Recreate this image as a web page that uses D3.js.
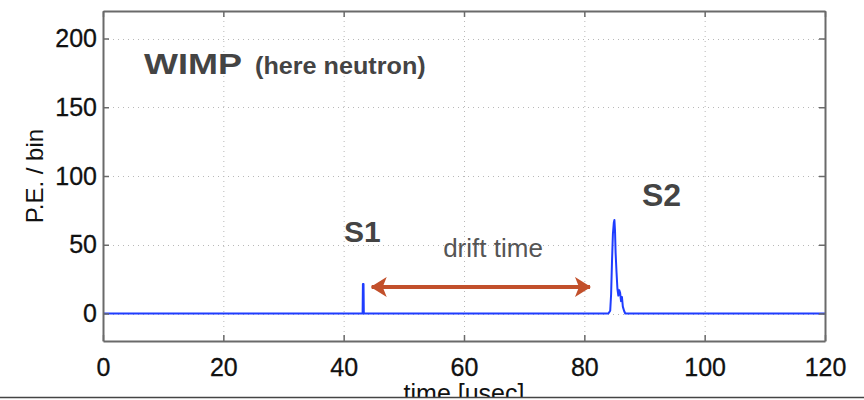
<!DOCTYPE html>
<html>
<head>
<meta charset="utf-8">
<script src="https://cdn.jsdelivr.net/npm/d3@7"></script>
<style>
  html, body { margin: 0; padding: 0; background: #fff; }
  svg { display: block; }
  text { font-family: "Liberation Sans", Arial, Helvetica, sans-serif; }
</style>
</head>
<body>
<svg id="chart" width="864" height="400"></svg>
<script>
// Photomultiplier trace of a single event: prompt scintillation (S1)
// followed by delayed proportional light (S2). Times in microseconds.
const traceTime = [0, 43.15, 43.2, 43.3, 43.35, 84.0, 84.3, 84.45, 84.6, 84.75, 84.9, 85.0, 85.1, 85.2, 85.35, 85.5, 85.65, 85.8, 85.95, 86.1, 86.25, 86.4, 86.6, 86.8, 120];
const tracePE   = [0, 0,     21.5, 21.5, 0,    0,    2,    14,   38,   58,   66,   68,   60,   44,   30,   18,   13,   17,   15,   9,    12,   5,    2,    0,    0];

const xTicks = [0, 20, 40, 60, 80, 100, 120];
const yTicks = [0, 50, 100, 150, 200];

// Drift-time arrow between the two signals (time, P.E. level)
const driftStartEnd = [44.66, 80.94];
const driftLevel = 19.3;

const labels = {
  title: "WIMP", subtitle: "(here neutron)",
  s1: "S1", s2: "S2", drift: "drift time",
  xAxis: "time [usec]", yAxis: "P.E. / bin"
};

const W = 864, H = 400;
const margin = { left: 103, right: 39, top: 11, bottom: 59 };
const svg = d3.select("#chart");

const x = d3.scaleLinear().domain([0, 120]).range([margin.left, W - margin.right]);
const y = d3.scaleLinear().domain([-20, 220]).range([H - margin.bottom, margin.top]);

// dotted grid
const grid = svg.append("g").attr("stroke", "#b8b8b8").attr("stroke-width", 1).attr("stroke-dasharray", "1,4");
grid.selectAll("line.v").data(xTicks.slice(1, -1)).join("line")
  .attr("x1", d => x(d) + 0.5).attr("x2", d => x(d) + 0.5)
  .attr("y1", y.range()[1]).attr("y2", y.range()[0]);
grid.selectAll("line.h").data(yTicks).join("line")
  .attr("y1", d => Math.round(y(d)) + 0.5).attr("y2", d => Math.round(y(d)) + 0.5)
  .attr("x1", x.range()[0]).attr("x2", x.range()[1]);

// trace
const line = d3.line().x((d, i) => x(traceTime[i])).y(d => y(d));
svg.append("path").datum(tracePE)
  .attr("d", line)
  .attr("fill", "none").attr("stroke", "#1f3dff").attr("stroke-width", 2)
  .attr("stroke-linejoin", "round");

// axes with inward ticks on all four sides
function styleAxis(g) {
  g.selectAll(".domain").attr("stroke", "#6a6a6a").attr("stroke-width", 2);
  g.selectAll(".tick line").attr("stroke", "#6a6a6a").attr("stroke-width", 1.5);
  g.selectAll(".tick text").attr("fill", "#111").style("font-size", "25px")
    .attr("stroke", "#111").attr("stroke-width", 0.3);
}
svg.append("g").attr("transform", `translate(0,${y.range()[1]})`)
  .call(d3.axisTop(x).tickValues(xTicks).tickSize(-6).tickSizeOuter(0).tickFormat(""))
  .call(styleAxis);
svg.append("g").attr("transform", `translate(${x.range()[1]},0)`)
  .call(d3.axisRight(y).tickValues(yTicks).tickSize(-6).tickSizeOuter(0).tickFormat(""))
  .call(styleAxis);
svg.append("g").attr("transform", `translate(0,${y.range()[0]})`)
  .call(d3.axisBottom(x).tickValues(xTicks).tickSize(-6).tickSizeOuter(0).tickPadding(17))
  .call(styleAxis);
svg.append("g").attr("transform", `translate(${x.range()[0]},0)`)
  .call(d3.axisLeft(y).tickValues(yTicks).tickSize(-6).tickSizeOuter(0).tickPadding(6))
  .call(styleAxis);
svg.selectAll(".tick text").attr("font-family", null);

// axis titles
svg.append("text")
  .attr("transform", `translate(43,${(y.range()[0] + y.range()[1]) / 2}) rotate(-90)`)
  .attr("text-anchor", "middle").attr("fill", "#111").style("font-size", "24px")
  .text(labels.yAxis);
svg.append("text")
  .attr("x", (x.range()[0] + x.range()[1]) / 2).attr("y", 402)
  .attr("text-anchor", "middle").attr("fill", "#111").style("font-size", "25px")
  .text(labels.xAxis);

// annotations (set in a slightly wide bold face)
svg.append("text").attr("transform", "translate(144,74) scale(1.2,1)")
  .attr("fill", "#444").attr("font-weight", "bold").style("font-size", "30px")
  .text(labels.title);
svg.append("text").attr("transform", "translate(255,74) scale(1.05,1)")
  .attr("fill", "#444").attr("font-weight", "bold").style("font-size", "24px")
  .text(labels.subtitle);

svg.append("text").attr("x", 344).attr("y", 242).attr("fill", "#444").attr("font-weight", "bold")
  .style("font-size", "30px").text(labels.s1);
svg.append("text").attr("x", 642).attr("y", 206).attr("fill", "#444").attr("font-weight", "bold")
  .style("font-size", "32px").text(labels.s2);
svg.append("text").attr("x", 493).attr("y", 257).attr("text-anchor", "middle").attr("fill", "#555")
  .style("font-size", "26px").text(labels.drift);

// drift-time double arrow
const arrowColor = "#c2502b";
const defs = svg.append("defs");
defs.append("marker").attr("id", "head").attr("viewBox", "0 0 16 20")
  .attr("refX", 15).attr("refY", 10).attr("markerWidth", 16).attr("markerHeight", 20)
  .attr("markerUnits", "userSpaceOnUse").attr("orient", "auto-start-reverse")
  .append("path").attr("d", "M0,0 L16,10 L0,20 L4,10 Z").attr("fill", arrowColor);
svg.append("line")
  .attr("x1", x(driftStartEnd[0])).attr("x2", x(driftStartEnd[1]))
  .attr("y1", y(driftLevel)).attr("y2", y(driftLevel))
  .attr("stroke", arrowColor).attr("stroke-width", 4)
  .attr("marker-start", "url(#head)").attr("marker-end", "url(#head)");

// frame line cutting across the bottom
svg.append("rect").attr("x", 0).attr("y", 398).attr("width", W).attr("height", 2).attr("fill", "#fff");
svg.append("line").attr("x1", 0).attr("x2", W).attr("y1", 397.5).attr("y2", 397.5)
  .attr("stroke", "#444").attr("stroke-width", 1.5);
</script>
</body>
</html>
